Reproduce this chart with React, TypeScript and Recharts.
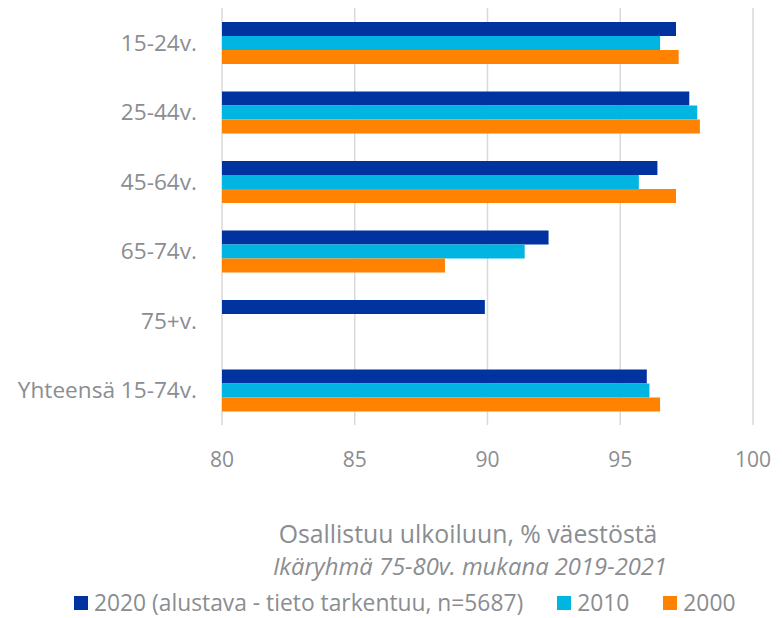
import React from 'react';
import { BarChart, Bar, XAxis, YAxis, CartesianGrid, Legend } from 'recharts';

const categories = ['15-24v.', '25-44v.', '45-64v.', '65-74v.', '75+v.', 'Yhteensä 15-74v.'];
const values2020 = [97.1, 97.6, 96.4, 92.3, 89.9, 96.0];
const values2010 = [96.5, 97.9, 95.7, 91.4, null, 96.1];
const values2000 = [97.2, 98.0, 97.1, 88.4, null, 96.5];
const xTicks = [80, 85, 90, 95, 100];

const seriesNames = ['2020 (alustava - tieto tarkentuu, n=5687)', '2010', '2000'];
const seriesColors = ['#0033A0', '#00B5E2', '#FF8200'];
const axisTitle = 'Osallistuu ulkoiluun, % väestöstä';
const axisSubtitle = 'Ikäryhmä 75-80v. mukana 2019-2021';

const data = categories.map((c, i) => ({
  name: c,
  s2020: values2020[i],
  s2010: values2010[i],
  s2000: values2000[i],
}));

const FONT = '"Open Sans", sans-serif';
const TEXT = '#8a8d91';
const LEGEND_H = 31;

const LegendContent = () => (
  <div style={{ display: 'flex', alignItems: 'center', height: LEGEND_H, lineHeight: `${LEGEND_H}px`, paddingLeft: 74, fontFamily: FONT, fontSize: 22.8, color: TEXT, whiteSpace: 'nowrap' }}>
    {seriesNames.map((n, i) => (
      <div key={n} style={{ display: 'flex', alignItems: 'center', height: LEGEND_H, marginRight: 34 }}>
        <span style={{ display: 'inline-block', width: 14, height: 14, background: seriesColors[i], marginRight: 6 }} />
        <span>{n}</span>
      </div>
    ))}
  </div>
);

const TitleLabel = () => (
  <g>
    <text x={468} y={543} textAnchor="middle" fontFamily={FONT} fontSize={24.8} fill={TEXT}>{axisTitle}</text>
    <text x={470} y={575} textAnchor="middle" fontFamily={FONT} fontSize={23.8} fontStyle="italic" fill={TEXT}>{axisSubtitle}</text>
  </g>
);

export default function App() {
  return (
    <div style={{ position: 'absolute', left: 0, top: 0, background: '#fff' }}>
      <BarChart
        width={783}
        height={618}
        data={data}
        layout="vertical"
        margin={{ top: 8, right: 30, left: 0, bottom: 0 }}
        barSize={14}
        barGap={0}
      >
        <CartesianGrid horizontal={false} stroke="#d9d9d9" strokeWidth={1.5} />
        <XAxis
          type="number"
          domain={[80, 100]}
          ticks={xTicks}
          allowDataOverflow
          axisLine={false}
          tickLine={false}
          tickSize={0}
          tickMargin={27}
          height={193 - LEGEND_H}
          tick={{ fill: TEXT, fontSize: 21, fontFamily: FONT }}
          label={{ content: <TitleLabel /> }}
        />
        <YAxis
          type="category"
          dataKey="name"
          width={222}
          axisLine={false}
          tickLine={false}
          tickSize={0}
          tickMargin={25}
          interval={0}
          tick={{ fill: TEXT, fontSize: 22.6, fontFamily: FONT }}
        />
        <Legend
          verticalAlign="bottom"
          content={<LegendContent />}
          wrapperStyle={{ left: 0, width: 783, height: LEGEND_H }}
        />
        <Bar dataKey="s2020" name={seriesNames[0]} fill={seriesColors[0]} isAnimationActive={false} />
        <Bar dataKey="s2010" name={seriesNames[1]} fill={seriesColors[1]} isAnimationActive={false} />
        <Bar dataKey="s2000" name={seriesNames[2]} fill={seriesColors[2]} isAnimationActive={false} />
      </BarChart>
    </div>
  );
}
